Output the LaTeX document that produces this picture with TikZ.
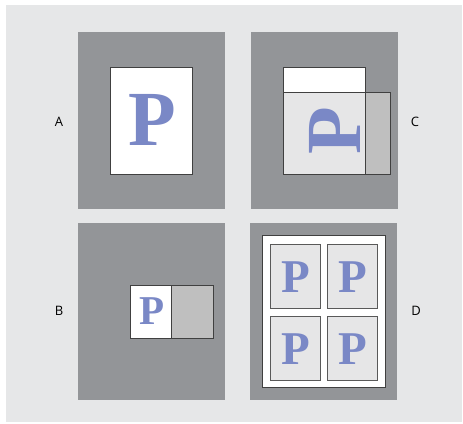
\documentclass[tikz,border=0pt]{standalone}
\usepackage{fontspec}
\setmainfont{Liberation Serif}
\setsansfont{Open Sans}

\definecolor{backdrop}{HTML}{E6E7E8}
\definecolor{panelgray}{HTML}{939598}
\definecolor{sheetgray}{HTML}{E6E6E7}
\definecolor{flapgray}{HTML}{BFBFBF}
\definecolor{glyphblue}{HTML}{7A88C6}

\begin{document}
\begin{tikzpicture}[
    x=1pt, y=-1pt,
    panel/.style={fill=panelgray},
    sheet/.style={draw=black!75, line width=0.8pt},
    glyph/.style={text=glyphblue, inner sep=0pt, anchor=base},
    tag/.style={font=\sffamily\fontsize{13}{13}\selectfont, inner sep=0pt}
]
    \useasboundingbox (0,0) rectangle (463,423);
    \fill[backdrop] (6,5) rectangle (462,422);

    % ==================== PANEL A ====================
    \fill[panel] (78,32) rectangle (225,209);
    \draw[sheet, fill=white] (110,67) rectangle (192,174);
    \node[glyph, font=\bfseries\fontsize{78}{78}\selectfont] (pA) at (152,145) {P};
    \node[tag] (labA) at (59,122) {A};

    % ==================== PANEL C ====================
    \fill[panel] (251,32) rectangle (398,209);
    \draw[sheet, fill=white] (283,67) rectangle (365,92);
    \draw[sheet, fill=sheetgray] (283,92) rectangle (365,174);
    \draw[sheet, fill=flapgray] (365,92) rectangle (390,174);
    \node[glyph, rotate=90, font=\bfseries\fontsize{78}{78}\selectfont] (pC) at (360,131) {P};
    \node[tag] (labC) at (415,122) {C};

    % ==================== PANEL B ====================
    \fill[panel] (78,223) rectangle (225,400);
    \draw[sheet, fill=white] (130,285) rectangle (171,338);
    \draw[sheet, fill=flapgray] (171,285) rectangle (213,338);
    \node[glyph, font=\bfseries\fontsize{41}{41}\selectfont] (pB) at (152,324) {P};
    \node[tag] (labB) at (59,311) {B};

    % ==================== PANEL D ====================
    \fill[panel] (250,223) rectangle (397,400);
    \draw[sheet, fill=white] (262,235) rectangle (385,387);
    % four small pages, two by two
    \foreach \px/\py/\nm in {270/244/tl, 327/244/tr, 270/316/bl, 327/316/br} {
        \draw[sheet, line width=0.7pt, draw=black!65, fill=sheetgray] (\px,\py) rectangle ++(50,64);
        \node[glyph, font=\bfseries\fontsize{47}{47}\selectfont] (p\nm) at (\px+25.5,\py+48) {P};
    }
    \node[tag] (labD) at (416,311) {D};

\end{tikzpicture}
\end{document}
